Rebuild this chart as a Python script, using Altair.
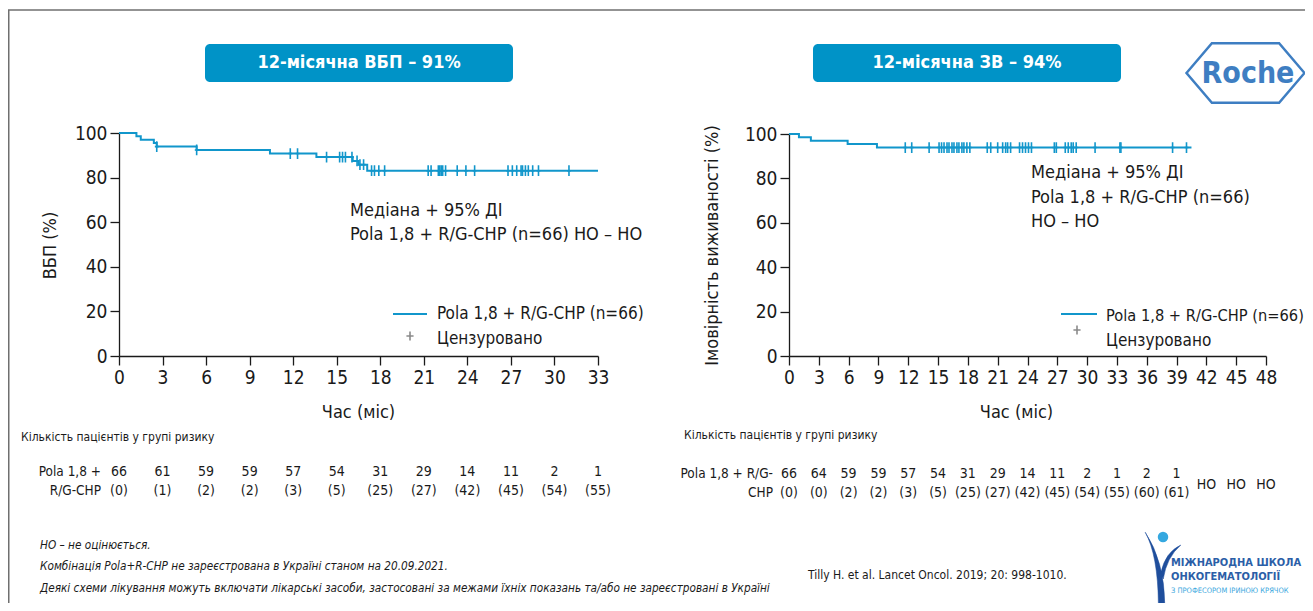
import altair as alt
import pandas as pd

FONT = "DejaVu Sans Condensed, Liberation Sans Narrow, Roboto Condensed, Arial Narrow, sans-serif"
CURVE = "#1196CB"
BOX = "#0093C7"
INK = "#1a1a1a"

# ---------------- data ----------------
# Left panel: PFS (ВБП)
pfs_t = [0, 1.2, 1.5, 2.4, 2.6, 5.35, 10.4, 13.6, 16.1, 16.5, 17.1, 33.0]
pfs_s = [100, 98.5, 97.0, 95.5, 93.9, 92.4, 90.8, 89.2, 87.5, 85.8, 83.1, 83.1]
pfs_cens = [2.6, 5.35, 11.8, 12.3, 14.3, 15.2, 15.4, 15.6, 16.05, 16.4, 16.6, 16.85,
            17.4, 17.6, 17.9, 18.3, 21.3, 21.5, 22.0, 22.1, 22.2, 22.3, 22.5,
            23.3, 23.9, 24.5, 26.8, 27.1, 27.4, 27.7, 27.8, 28.0, 28.2, 28.5, 28.9, 31.0]

# Right panel: OS (ЗВ)
os_t = [0, 1.0, 2.2, 5.9, 8.85, 40.5]
os_s = [100, 98.5, 97.0, 95.5, 93.9, 93.9]
os_cens = [11.7, 12.35, 14.1, 15.1, 15.35, 15.6, 15.9, 16.1, 16.4, 16.6, 16.9, 17.1,
           17.4, 17.6, 17.9, 18.2, 19.95, 20.3, 21.0, 21.5, 21.8, 22.0, 22.3,
           23.2, 23.5, 23.8, 24.1, 24.4, 26.7, 26.9, 27.8, 28.1, 28.4, 28.6, 28.9,
           30.8, 33.3, 33.4, 38.6, 40.0]

# Risk tables
left_times = [0, 3, 6, 9, 12, 15, 18, 21, 24, 27, 30, 33]
left_n = [66, 61, 59, 59, 57, 54, 31, 29, 14, 11, 2, 1]
left_c = [0, 1, 2, 2, 3, 5, 25, 27, 42, 45, 54, 55]
right_times = [0, 3, 6, 9, 12, 15, 18, 21, 24, 27, 30, 33, 36, 39]
right_n = [66, 64, 59, 59, 57, 54, 31, 29, 14, 11, 2, 1, 2, 1]
right_c = [0, 0, 2, 2, 3, 5, 25, 27, 42, 45, 54, 55, 60, 61]
right_ne_times = [42, 45, 48]

left_ticks = list(range(0, 34, 3))
right_ticks = list(range(0, 49, 3))
y_ticks = [0, 20, 40, 60, 80, 100]


def step_value(ts, ss, t):
    v = ss[0]
    for a, b in zip(ts, ss):
        if a <= t:
            v = b
    return v


curveL = pd.DataFrame({"t": pfs_t, "s": pfs_s})
censL = pd.DataFrame({"t": pfs_cens, "s": [step_value(pfs_t, pfs_s, c) for c in pfs_cens]})
curveR = pd.DataFrame({"t": os_t, "s": os_s})
censR = pd.DataFrame({"t": os_cens, "s": [step_value(os_t, os_s, c) for c in os_cens]})
riskL = pd.DataFrame({"t": left_times, "n": [str(v) for v in left_n], "c": [f"({v})" for v in left_c]})
riskR = pd.DataFrame({"t": right_times, "n": [str(v) for v in right_n], "c": [f"({v})" for v in right_c]})
riskRne = pd.DataFrame({"t": right_ne_times, "n": ["НО"] * len(right_ne_times)})

CROSS = "M0,-1L0,1M-0.35,0L0.35,0"
PLUS = "M0,-1L0,1M-0.8,0L0.8,0"

axis_common = dict(labelFont=FONT, labelFontSize=19, labelColor=INK, tickColor=INK,
                   domainColor=INK, domainWidth=1.3, tickWidth=1.3, tickSize=9,
                   labelPadding=3, grid=False, titleFont=FONT, titleFontSize=18,
                   titleFontWeight="normal", titleColor=INK, titleAlign="center",
                   titleBaseline="middle", labelFlush=False, labelOverlap=False)

W = 1297
H = 595

# ----- left panel -----
xL = alt.X("t:Q", scale=alt.Scale(domain=[0, 33], range=[111, 590], nice=False, zero=False),
           axis=alt.Axis(values=left_ticks, orient="bottom", offset=348 - H, title="Час (міс)",
                         titleX=350, titleY=56, **axis_common))
yL = alt.Y("s:Q", scale=alt.Scale(domain=[0, 100], range=[348, 125], nice=False),
           axis=alt.Axis(values=y_ticks, orient="left", offset=-111, title="ВБП (%)",
                         titleX=-69, titleY=237, titleAngle=270, **axis_common))

left_line = alt.Chart(curveL).mark_line(interpolate="step-after", color=CURVE, strokeWidth=2).encode(x=xL, y=yL)
left_cens = alt.Chart(censL).mark_point(shape=CROSS, size=115, filled=False, stroke=CURVE,
                                        strokeWidth=1.6, opacity=1).encode(x=xL, y=yL)
left_rn = alt.Chart(riskL).mark_text(font=FONT, fontSize=14, color=INK, baseline="middle").encode(
    x=xL, y=alt.value(464), text="n:N")
left_rc = alt.Chart(riskL).mark_text(font=FONT, fontSize=14, color=INK, baseline="middle").encode(
    x=xL, y=alt.value(483), text="c:N")
left_panel = alt.layer(left_line, left_cens, left_rn, left_rc)

# ----- right panel -----
xR = alt.X("t:Q", scale=alt.Scale(domain=[0, 48], range=[781, 1258], nice=False, zero=False),
           axis=alt.Axis(values=right_ticks, orient="bottom", offset=348 - H, title="Час (міс)",
                         titleX=1008, titleY=56, **axis_common))
yR = alt.Y("s:Q", scale=alt.Scale(domain=[0, 100], range=[348, 126], nice=False),
           axis=alt.Axis(values=y_ticks, orient="left", offset=-781, title="Імовірність виживаності (%)",
                         titleX=-77, titleY=237, titleAngle=270, **axis_common))

right_line = alt.Chart(curveR).mark_line(interpolate="step-after", color=CURVE, strokeWidth=2).encode(x=xR, y=yR)
right_cens = alt.Chart(censR).mark_point(shape=CROSS, size=115, filled=False, stroke=CURVE,
                                         strokeWidth=1.6, opacity=1).encode(x=xR, y=yR)
right_rn = alt.Chart(riskR).mark_text(font=FONT, fontSize=14, color=INK, baseline="middle").encode(
    x=xR, y=alt.value(466), text="n:N")
right_rc = alt.Chart(riskR).mark_text(font=FONT, fontSize=14, color=INK, baseline="middle").encode(
    x=xR, y=alt.value(485), text="c:N")
right_ne = alt.Chart(riskRne).mark_text(font=FONT, fontSize=14, color=INK, baseline="middle").encode(
    x=xR, y=alt.value(477), text="n:N")
right_panel = alt.layer(right_line, right_cens, right_rn, right_rc, right_ne)

# ----- decorations -----
ONE = alt.Data(values=[{}])


def txt(s, x, y, size=18, align="left", weight="normal", style="normal", color=INK, font=FONT):
    return alt.Chart(ONE).mark_text(text=s, align=align, baseline="middle", fontSize=size,
                                    fontWeight=weight, fontStyle=style, color=color, font=font).encode(
        x=alt.value(x), y=alt.value(y))


def rule(x, x2, y, y2, color="#6f6f6f", w=1.5):
    return alt.Chart(ONE).mark_rule(color=color, strokeWidth=w).encode(
        x=alt.value(x), x2=alt.value(x2), y=alt.value(y), y2=alt.value(y2))


def box(x, x2, y, y2):
    return alt.Chart(ONE).mark_rect(color=BOX, cornerRadius=5).encode(
        x=alt.value(x), x2=alt.value(x2), y=alt.value(y), y2=alt.value(y2))


def sym(shape, x, y, size, stroke=None, fill=None, w=1.5):
    kw = dict(shape=shape, size=size, opacity=1, strokeWidth=w)
    if fill is not None:
        kw.update(filled=True, fill=fill, stroke=fill if stroke is None else stroke)
    else:
        kw.update(filled=False, stroke=stroke)
    return alt.Chart(ONE).mark_point(**kw).encode(x=alt.value(x), y=alt.value(y))


HEX = "M-1,0L-0.57,-0.504L0.57,-0.504L1,0L0.57,0.504L-0.57,0.504Z"
SWOOSH = ("M-0.42,-0.92Q-0.1,-0.35,-0.09,0.9L0.07,0.9Q0.06,-0.2,-0.42,-0.92Z"
          "M0.47,-0.6Q0.08,-0.42,-0.03,0.1L0.03,0.25Q0.12,-0.3,0.47,-0.6Z")

deco = [
    rule(0.75, 0.75, 2, H),
    rule(0, W, 2, 2),
    box(197, 505, 36, 74),
    box(805, 1113, 36, 74),
    txt("12-місячна ВБП – 91%", 351, 55, size=18, align="center", weight="bold", color="white"),
    txt("12-місячна ЗВ – 94%", 959, 55, size=18, align="center", weight="bold", color="white"),
    sym(HEX, 1237.5, 65, 118 * 118, stroke="#3E7EC2", w=2.5),
    txt("Roche", 1240, 66, size=30, align="center", weight="bold", color="#3E7EC2"),
    # annotations
    txt("Медіана + 95% ДІ", 342, 203),
    txt("Pola 1,8 + R/G-CHP (n=66) НО – НО", 342, 227),
    txt("Медіана + 95% ДІ", 1023, 165),
    txt("Pola 1,8 + R/G-CHP (n=66)", 1023, 190),
    txt("НО – НО", 1023, 214),
    # legends
    rule(385, 419, 306, 306, color=CURVE, w=2),
    sym(PLUS, 402, 328, 80, stroke="#8a8a8a", w=1.6),
    txt("Pola 1,8 + R/G-CHP (n=66)", 429, 306, size=17),
    txt("Цензуровано", 429, 331, size=17),
    rule(1053, 1089, 306, 306, color=CURVE, w=2),
    sym(PLUS, 1069, 322, 80, stroke="#8a8a8a", w=1.6),
    txt("Pola 1,8 + R/G-CHP (n=66)", 1098, 308, size=16.3),
    txt("Цензуровано", 1098, 333, size=17),
    # risk table labels
    txt("Кількість пацієнтів у групі ризику", 13, 429, size=12),
    txt("Pola 1,8 +", 93, 464, size=13.5, align="right"),
    txt("R/G-CHP", 93, 483, size=13.5, align="right"),
    txt("Кількість пацієнтів у групі ризику", 676, 427, size=12),
    txt("Pola 1,8 + R/G-", 765, 466, size=13.5, align="right"),
    txt("CHP", 765, 485, size=13.5, align="right"),
    # footnotes
    txt("НО – не оцінюється.", 32, 537, size=11.7, style="italic"),
    txt("Комбінація Pola+R-CHP не зареєстрована в Україні станом на 20.09.2021.", 32, 558, size=11.7, style="italic"),
    txt("Деякі схеми лікування можуть включати лікарські засоби, застосовані за межами їхніх показань та/або не зареєстровані в Україні",
        32, 580, size=11.7, style="italic"),
    txt("Tilly H. et al. Lancet Oncol. 2019; 20: 998-1010.", 800, 567, size=12),
    # school logo
    sym(SWOOSH, 1154, 561, 6400, fill="#1F4E9C", w=0.5),
    sym("circle", 1155, 529, 110, fill="#35A8E0", w=0),
    txt("МІЖНАРОДНА ШКОЛА", 1163, 555, size=11, weight="bold", color="#2B5EA7"),
    txt("ОНКОГЕМАТОЛОГІЇ", 1163, 569, size=11, weight="bold", color="#2B5EA7"),
    txt("З ПРОФЕСОРОМ ІРИНОЮ КРЯЧОК", 1163, 583, size=7.5, color="#3AA7DE"),
]

chart = alt.layer(left_panel, right_panel, *deco).resolve_scale(
    x="independent", y="independent"
).properties(
    width=W, height=H, autosize="none", padding=0
).configure_view(strokeWidth=0)

chart.save("out.html", embed_options={"renderer": "svg", "actions": False})
